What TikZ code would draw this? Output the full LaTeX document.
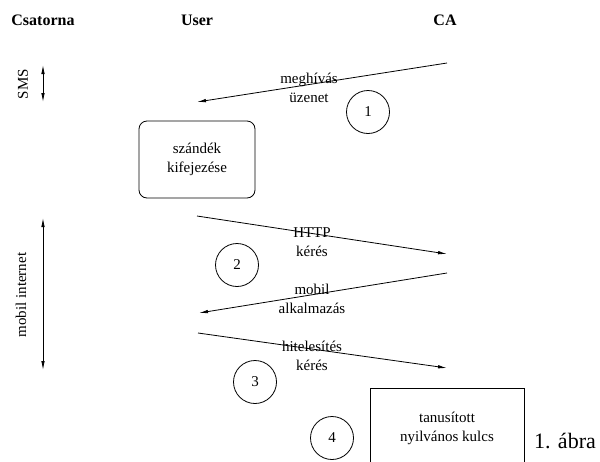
\documentclass[tikz,border=0pt]{standalone}
\usepackage{fontspec}
\setmainfont{Liberation Serif}
\usetikzlibrary{arrows.meta, positioning}
\tikzset{
    >={Latex[length=9pt,width=3.5pt]},
    msg/.style={->, line width=0.8pt},
    lbl/.style={align=center, inner sep=1pt, font=\fontsize{15}{19}\selectfont},
    head/.style={font=\fontsize{16}{19}\selectfont\bfseries},
    stepnum/.style={draw, circle, line width=0.8pt, minimum size=43pt, inner sep=0pt, font=\fontsize{15}{18}\selectfont}
}

\begin{document}
\begin{tikzpicture}[x=1pt, y=-1pt]
    \useasboundingbox (0,0) rectangle (600,461);

    % Column headings
    \node[head] (csatorna) at (43,20) {Csatorna};
    \node[head] (user) at (197,20) {User};
    \node[head] (ca) at (445,20) {CA};

    % Channels
    \node[lbl, rotate=90] (sms) at (23,84) {SMS};
    \coordinate (smsTop) at (43,65);
    \coordinate (smsBot) at (43,102);
    \draw[<->, line width=0.8pt] (smsTop) -- (smsBot);

    \node[lbl, rotate=90] (mobilnet) at (21,295) {mobil internet};
    \coordinate (netTop) at (43,218);
    \coordinate (netBot) at (43,370);
    \draw[<->, line width=0.8pt] (netTop) -- (netBot);

    % Message end points
    \coordinate (caA) at (447,63);
    \coordinate (userA) at (197,102);
    \coordinate (userB) at (197,216);
    \coordinate (caB) at (447,254);
    \coordinate (caC) at (447,273);
    \coordinate (userC) at (199,313);
    \coordinate (userD) at (198,333);
    \coordinate (caD) at (447,368);

    % Messages
    \draw[msg] (caA) -- (userA);
    \node[lbl] (meghivas) at (309,88) {megh\'iv\'as\\\"uzenet};

    \draw[msg] (userB) -- (caB);
    \node[lbl] (http) at (312,242) {HTTP\\k\'er\'es};

    \draw[msg] (caC) -- (userC);
    \node[lbl] (mobilapp) at (312,299) {mobil\\alkalmaz\'as};

    \draw[msg] (userD) -- (caD);
    \node[lbl] (hitel) at (312,356) {hiteles\'it\'es\\k\'er\'es};

    % Boxes
    \node[draw, rounded corners=8pt, line width=0.8pt, lbl, minimum width=116pt, minimum height=77pt] (szandek) at (197,159.5) {sz\'and\'ek\\kifejez\'ese};

    \begin{scope}
        \clip (0,0) rectangle (600,461);
        \node[draw, line width=0.8pt, minimum width=154pt, minimum height=86pt] (kulcsbox) at (447,431) {};
    \end{scope}
    \node[lbl] (kulcs) at (447,428) {tanus\'itott\\nyilv\'anos kulcs};

    % Steps
    \node[stepnum] (s1) at (368,112) {1};
    \node[stepnum] (s2) at (237,265) {2};
    \node[stepnum] (s3) at (255,382) {3};
    \node[stepnum] (s4) at (332,438) {4};

    % Caption
    \node[font=\fontsize{22}{24}\selectfont] (abra) at (565,441) {1. \'abra};
\end{tikzpicture}
\end{document}
